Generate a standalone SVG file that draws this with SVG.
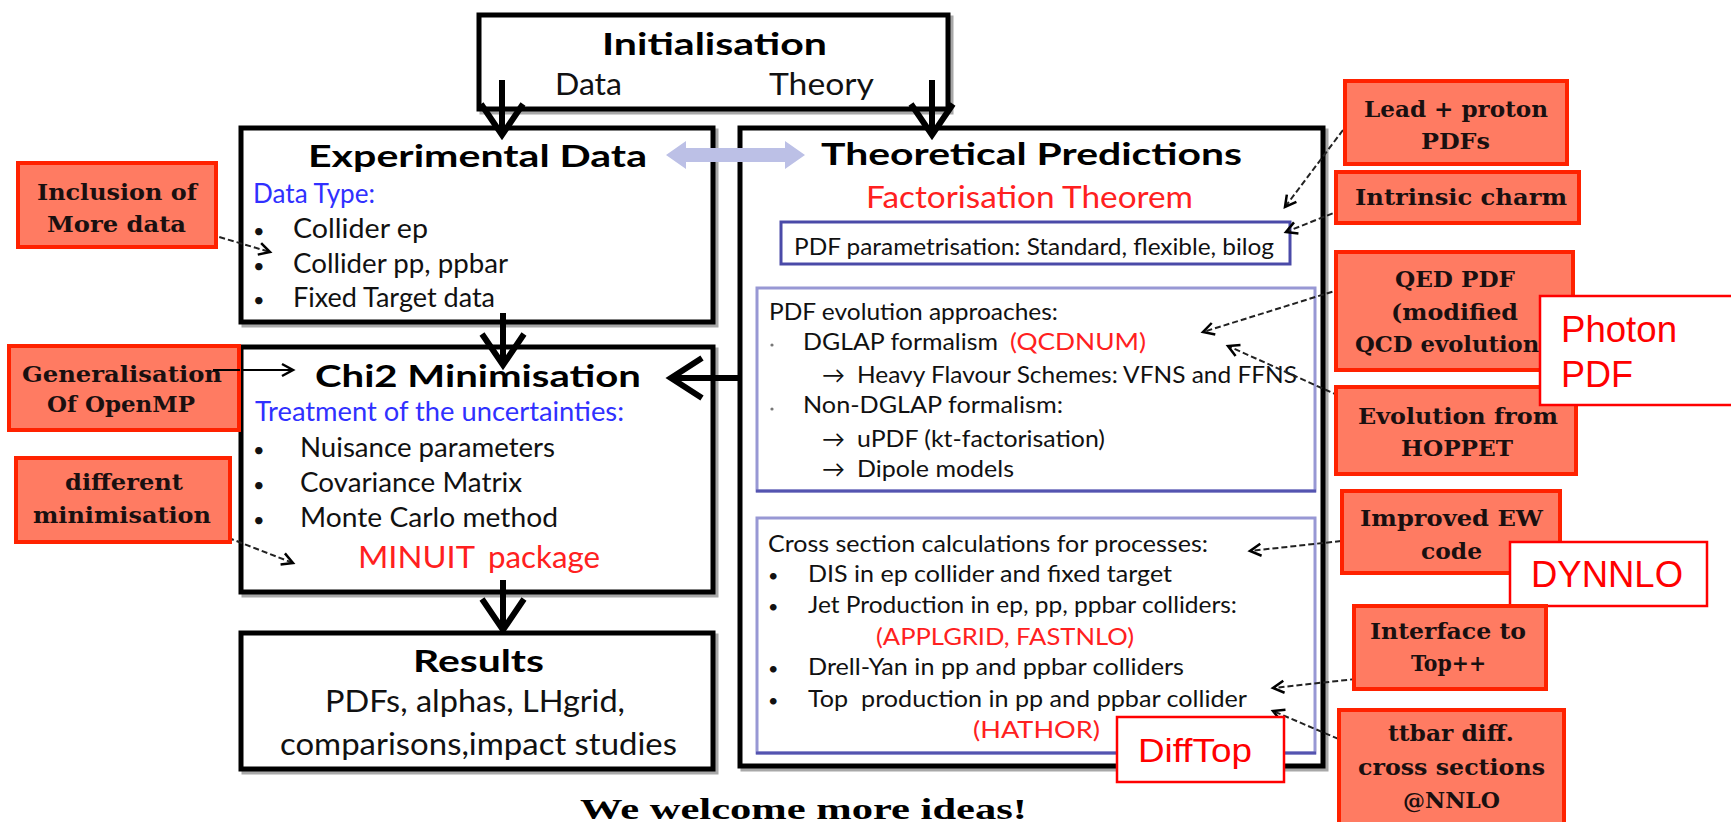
<svg xmlns="http://www.w3.org/2000/svg" width="1731" height="822" viewBox="0 0 1731 822">
<defs>
<marker id="oa" markerUnits="userSpaceOnUse" markerWidth="16" markerHeight="16" refX="13" refY="8" orient="auto">
<path d="M2,2 L13,8 L2,14" fill="none" stroke="#000" stroke-width="2.5"/>
</marker>
</defs>
<style>
.shadow{fill:none;stroke:#a8a8a8;stroke-width:5}
.box{fill:#fff;stroke:#000;stroke-width:5}
.note{fill:#ff7b62;stroke:#ff2200;stroke-width:4}
.wbox{fill:#fff;stroke:#ff0000;stroke-width:2.5}
.sub{fill:none;stroke:#9898d4;stroke-width:3}
.subdark{fill:none;stroke:#5454b0;stroke-width:3}
.t{font-family:Lato,"Liberation Sans",sans-serif;fill:#111}
.b{font-family:Lato,"Liberation Sans",sans-serif;font-weight:700;fill:#000}
.blue{fill:#3030ff}
.red{fill:#ff2020}
.n{font-family:"DejaVu Serif","Liberation Serif",serif;font-size:22px;font-weight:700;fill:#1a1010;text-anchor:start}
.ar{font-family:"Liberation Sans",Arial,sans-serif;fill:#ff0000}
.big{fill:none;stroke:#000;stroke-width:6}
.dash{fill:none;stroke:#222;stroke-width:2;stroke-dasharray:6,3}
.sol{fill:none;stroke:#000;stroke-width:2}
</style>

<!-- Initialisation -->
<g id="init">
<rect class="shadow" x="482" y="18" width="469" height="94"/>
<rect class="box" x="479" y="15" width="469" height="94"/>
<text class="b" x="602" y="55" font-size="31" textLength="225" lengthAdjust="spacingAndGlyphs">Initialisation</text>
<text class="t" x="555" y="95" font-size="31" textLength="67" lengthAdjust="spacingAndGlyphs">Data</text>
<text class="t" x="769" y="95" font-size="31" textLength="105" lengthAdjust="spacingAndGlyphs">Theory</text>
</g>

<!-- Experimental data -->
<g id="expdata">
<rect class="shadow" x="244" y="131" width="472" height="194"/>
<rect class="box" x="241" y="128" width="472" height="194"/>
<text class="b" x="308" y="167" font-size="30" textLength="339" lengthAdjust="spacingAndGlyphs">Experimental Data</text>
<text class="t blue" x="253" y="203" font-size="26" textLength="122" lengthAdjust="spacingAndGlyphs">Data Type:</text>
<text class="t" x="253" y="238" font-size="20">•</text>
<text class="t" x="293" y="238" font-size="27" textLength="135" lengthAdjust="spacingAndGlyphs">Collider ep</text>
<text class="t" x="253" y="273" font-size="20">•</text>
<text class="t" x="293" y="273" font-size="27" textLength="215" lengthAdjust="spacingAndGlyphs">Collider pp, ppbar</text>
<text class="t" x="253" y="307" font-size="20">•</text>
<text class="t" x="293" y="307" font-size="27" textLength="202" lengthAdjust="spacingAndGlyphs">Fixed Target data</text>
</g>

<!-- Chi2 -->
<g id="chi2">
<rect class="shadow" x="244" y="350" width="472" height="245"/>
<rect class="box" x="241" y="347" width="472" height="245"/>
<text class="b" x="315" y="387" font-size="30" textLength="326" lengthAdjust="spacingAndGlyphs">Chi2 Minimisation</text>
<text class="t blue" x="255" y="421" font-size="26" textLength="369" lengthAdjust="spacingAndGlyphs">Treatment of the uncertainties:</text>
<text class="t" x="253" y="457" font-size="20">•</text>
<text class="t" x="300" y="457" font-size="27" textLength="255" lengthAdjust="spacingAndGlyphs">Nuisance parameters</text>
<text class="t" x="253" y="492" font-size="20">•</text>
<text class="t" x="300" y="492" font-size="27" textLength="222" lengthAdjust="spacingAndGlyphs">Covariance Matrix</text>
<text class="t" x="253" y="527" font-size="20">•</text>
<text class="t" x="300" y="527" font-size="27" textLength="258" lengthAdjust="spacingAndGlyphs">Monte Carlo method</text>
<text class="t red" x="358" y="568" font-size="31" textLength="117" lengthAdjust="spacingAndGlyphs">MINUIT</text>
<text class="t red" x="488" y="568" font-size="31" textLength="112" lengthAdjust="spacingAndGlyphs">package</text>
</g>

<!-- Results -->
<g id="results">
<rect class="shadow" x="244" y="636" width="472" height="136"/>
<rect class="box" x="241" y="633" width="472" height="136"/>
<text class="b" x="413" y="672" font-size="31" textLength="131" lengthAdjust="spacingAndGlyphs">Results</text>
<text class="t" x="325" y="712" font-size="31" textLength="300" lengthAdjust="spacingAndGlyphs">PDFs, alphas, LHgrid,</text>
<text class="t" x="280" y="755" font-size="31" textLength="397" lengthAdjust="spacingAndGlyphs">comparisons,impact studies</text>
</g>

<!-- Theoretical predictions -->
<g id="theory">
<rect class="shadow" x="743" y="131" width="583" height="638"/>
<rect class="box" x="740" y="128" width="583" height="638"/>
<text class="b" x="821" y="165" font-size="30" textLength="421" lengthAdjust="spacingAndGlyphs">Theoretical Predictions</text>
<text class="t red" x="866" y="208" font-size="30" textLength="327" lengthAdjust="spacingAndGlyphs">Factorisation Theorem</text>
</g>

<g id="pdfparam">
<rect x="781" y="222" width="509" height="42" fill="#fff" stroke="#4a4aa8" stroke-width="3"/>
<text class="t" x="794" y="255" font-size="23" textLength="480" lengthAdjust="spacingAndGlyphs">PDF parametrisation: Standard, flexible, bilog</text>
</g>

<g id="evolution">
<rect class="sub" x="757" y="288" width="558" height="203"/>
<line class="subdark" x1="756" y1="491" x2="1316" y2="491"/>
<text class="t" x="769" y="320" font-size="23" textLength="289" lengthAdjust="spacingAndGlyphs">PDF evolution approaches:</text>
<circle cx="772" cy="345" r="1.6" fill="#777"/>
<text class="t" x="803" y="350" font-size="23" textLength="195" lengthAdjust="spacingAndGlyphs">DGLAP formalism</text>
<text class="t red" x="1010" y="350" font-size="23" textLength="136" lengthAdjust="spacingAndGlyphs">(QCDNUM)</text>
<text class="t" x="822" y="383" font-size="23" font-family="DejaVu Sans,sans-serif">→</text>
<text class="t" x="857" y="383" font-size="23" textLength="440" lengthAdjust="spacingAndGlyphs">Heavy Flavour Schemes: VFNS and FFNS</text>
<circle cx="772" cy="409" r="1.6" fill="#777"/>
<text class="t" x="803" y="413" font-size="23" textLength="260" lengthAdjust="spacingAndGlyphs">Non-DGLAP formalism:</text>
<text class="t" x="822" y="447" font-size="23" font-family="DejaVu Sans,sans-serif">→</text>
<text class="t" x="857" y="447" font-size="23" textLength="248" lengthAdjust="spacingAndGlyphs">uPDF (kt-factorisation)</text>
<text class="t" x="822" y="477" font-size="23" font-family="DejaVu Sans,sans-serif">→</text>
<text class="t" x="857" y="477" font-size="23" textLength="157" lengthAdjust="spacingAndGlyphs">Dipole models</text>
</g>

<g id="crosssection">
<rect class="sub" x="757" y="518" width="558" height="235"/>
<line class="subdark" x1="756" y1="753" x2="1316" y2="753"/>
<text class="t" x="768" y="552" font-size="23" textLength="440" lengthAdjust="spacingAndGlyphs">Cross section calculations for processes:</text>
<text class="t" x="768" y="582" font-size="18">•</text>
<text class="t" x="808" y="582" font-size="23" textLength="364" lengthAdjust="spacingAndGlyphs">DIS in ep collider and fixed target</text>
<text class="t" x="768" y="613" font-size="18">•</text>
<text class="t" x="808" y="613" font-size="23" textLength="429" lengthAdjust="spacingAndGlyphs">Jet Production in ep, pp, ppbar colliders:</text>
<text class="t red" x="876" y="645" font-size="23" textLength="258" lengthAdjust="spacingAndGlyphs">(APPLGRID, FASTNLO)</text>
<text class="t" x="768" y="675" font-size="18">•</text>
<text class="t" x="808" y="675" font-size="23" textLength="376" lengthAdjust="spacingAndGlyphs">Drell-Yan in pp and ppbar colliders</text>
<text class="t" x="768" y="707" font-size="18">•</text>
<text class="t" x="808" y="707" font-size="23" textLength="439" lengthAdjust="spacingAndGlyphs" xml:space="preserve">Top  production in pp and ppbar collider</text>
<text class="t red" x="973" y="738" font-size="23" textLength="127" lengthAdjust="spacingAndGlyphs">(HATHOR)</text>
</g>

<!-- Main connectors -->
<g id="connectors">
<path d="M666,155 L686,141 L686,148 L785,148 L785,141 L805,155 L785,169 L785,162 L686,162 L686,169 Z" fill="#bcc0e6"/>
<path class="big" d="M502,80 L502,134 M481,104 L502,135 L523,104"/>
<path class="big" d="M932,80 L932,134 M911,104 L932,135 L953,104"/>
<path class="big" d="M503,313 L503,364 M482,334 L503,365 L524,334"/>
<path class="big" d="M503,580 L503,629 M482,599 L503,630 L524,599"/>
<path class="big" d="M738,378 L672,378 M702,358 L671,378 L702,398"/>
<line class="dash" x1="202" y1="232" x2="270" y2="252" marker-end="url(#oa)"/>
<line class="sol" x1="213" y1="370" x2="293" y2="370" marker-end="url(#oa)"/>
<line class="dash" x1="203" y1="528" x2="293" y2="563" marker-end="url(#oa)"/>
<line class="dash" x1="1343" y1="130" x2="1285" y2="207" marker-end="url(#oa)"/>
<line class="dash" x1="1341" y1="210" x2="1286" y2="232" marker-end="url(#oa)"/>
<line class="dash" x1="1341" y1="289" x2="1203" y2="332" marker-end="url(#oa)"/>
<line class="dash" x1="1355" y1="403" x2="1228" y2="346" marker-end="url(#oa)"/>
<line class="dash" x1="1341" y1="541" x2="1250" y2="551" marker-end="url(#oa)"/>
<line class="dash" x1="1365" y1="678" x2="1273" y2="688" marker-end="url(#oa)"/>
<line class="dash" x1="1355" y1="746" x2="1273" y2="711" marker-end="url(#oa)"/>
</g>

<!-- Left notes -->
<g id="note-inclusion">
<rect class="note" x="18" y="163" width="198" height="84"/>
<text class="n" x="37" y="200" textLength="160" lengthAdjust="spacingAndGlyphs">Inclusion of</text>
<text class="n" x="47" y="232" textLength="139" lengthAdjust="spacingAndGlyphs">More data</text>
</g>
<g id="note-openmp">
<rect class="note" x="9" y="346" width="230" height="84"/>
<text class="n" x="22" y="382" textLength="200" lengthAdjust="spacingAndGlyphs">Generalisation</text>
<text class="n" x="47" y="412" textLength="148" lengthAdjust="spacingAndGlyphs">Of OpenMP</text>
<line class="sol" x1="213" y1="370" x2="240" y2="370"/>
</g>
<g id="note-minimisation">
<rect class="note" x="16" y="458" width="214" height="84"/>
<text class="n" x="65" y="490" textLength="118" lengthAdjust="spacingAndGlyphs">different</text>
<text class="n" x="33" y="523" textLength="178" lengthAdjust="spacingAndGlyphs">minimisation</text>
</g>

<!-- Right notes -->
<g id="note-lead">
<rect class="note" x="1345" y="81" width="222" height="83"/>
<text class="n" x="1364" y="117" textLength="184" lengthAdjust="spacingAndGlyphs">Lead + proton</text>
<text class="n" x="1421" y="149" textLength="69" lengthAdjust="spacingAndGlyphs">PDFs</text>
</g>
<g id="note-charm">
<rect class="note" x="1336" y="172" width="243" height="51"/>
<text class="n" x="1355" y="205" textLength="212" lengthAdjust="spacingAndGlyphs">Intrinsic charm</text>
</g>
<g id="note-qed">
<rect class="note" x="1336" y="252" width="237" height="118"/>
<text class="n" x="1395" y="287" textLength="120" lengthAdjust="spacingAndGlyphs">QED PDF</text>
<text class="n" x="1391" y="320" textLength="127" lengthAdjust="spacingAndGlyphs">(modified</text>
<text class="n" x="1355" y="352" textLength="195" lengthAdjust="spacingAndGlyphs">QCD evolution)</text>
</g>
<g id="note-hoppet">
<rect class="note" x="1336" y="387" width="240" height="87"/>
<text class="n" x="1358" y="424" textLength="200" lengthAdjust="spacingAndGlyphs">Evolution from</text>
<text class="n" x="1401" y="456" textLength="112" lengthAdjust="spacingAndGlyphs">HOPPET</text>
</g>
<g id="label-photon">
<rect class="wbox" x="1540" y="296" width="200" height="109"/>
<text class="ar" x="1561" y="342" font-size="36" textLength="116" lengthAdjust="spacingAndGlyphs">Photon</text>
<text class="ar" x="1561" y="387" font-size="36">PDF</text>
</g>
<g id="note-ew">
<rect class="note" x="1342" y="491" width="218" height="82"/>
<text class="n" x="1360" y="526" textLength="183" lengthAdjust="spacingAndGlyphs">Improved EW</text>
<text class="n" x="1421" y="559" textLength="61" lengthAdjust="spacingAndGlyphs">code</text>
</g>
<g id="label-dynnlo">
<rect class="wbox" x="1510" y="542" width="197" height="64"/>
<text class="ar" x="1531" y="587" font-size="36" textLength="152" lengthAdjust="spacingAndGlyphs">DYNNLO</text>
</g>
<g id="note-topplusplus">
<rect class="note" x="1354" y="606" width="192" height="83"/>
<text class="n" x="1370" y="639" textLength="156" lengthAdjust="spacingAndGlyphs">Interface to</text>
<text class="n" x="1411" y="671" textLength="75" lengthAdjust="spacingAndGlyphs">Top++</text>
</g>
<g id="note-ttbar">
<rect class="note" x="1339" y="710" width="225" height="130"/>
<text class="n" x="1388" y="741" textLength="126" lengthAdjust="spacingAndGlyphs">ttbar diff.</text>
<text class="n" x="1358" y="775" textLength="187" lengthAdjust="spacingAndGlyphs">cross sections</text>
<text class="n" x="1403" y="808" textLength="97" lengthAdjust="spacingAndGlyphs">@NNLO</text>
</g>
<g id="label-difftop">
<rect class="wbox" x="1117" y="717" width="167" height="65"/>
<text class="ar" x="1138" y="762" font-size="34" textLength="114" lengthAdjust="spacingAndGlyphs">DiffTop</text>
</g>

<g id="footer">
<text x="580" y="819" font-family="Liberation Serif,serif" font-weight="700" font-size="30" fill="#000" textLength="447" lengthAdjust="spacingAndGlyphs">We welcome more ideas!</text>
</g>
</svg>
